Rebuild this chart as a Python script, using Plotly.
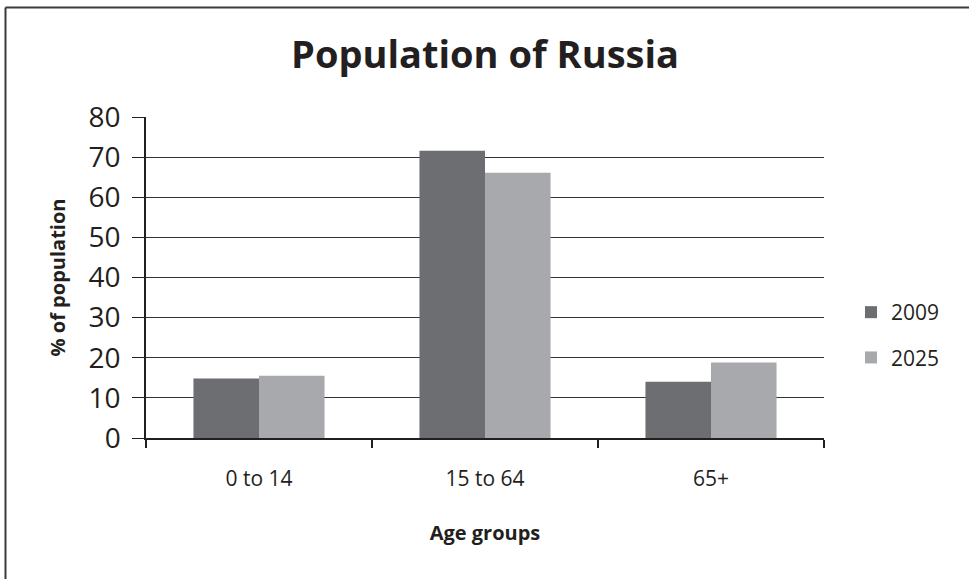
import plotly.graph_objects as go

categories = ["0 to 14", "15 to 64", "65+"]
series_names = ["2009", "2025"]
values_2009 = [14.8, 71.6, 14.0]
values_2025 = [15.5, 66.1, 18.8]
colors = ["#6d6e71", "#a7a9ac"]
y_ticks = [0, 10, 20, 30, 40, 50, 60, 70, 80]

W, H = 969, 579
ML, MR, MT, MB = 146, 145, 117, 141
PW, PH = W - ML - MR, H - MT - MB
TXT = "#231f20"
FONT = "Open Sans"

fig = go.Figure()
for name, vals, col in zip(series_names, [values_2009, values_2025], colors):
    fig.add_trace(go.Bar(x=categories, y=vals, name=name, marker=dict(color=col, line=dict(width=0)),
                         legendgroup=name))

def px_x(px):
    return (px - ML) / PW

def px_y(py):
    return (H - MB - py) / PH

fig.update_layout(
    width=W, height=H,
    margin=dict(l=ML, r=MR, t=MT, b=MB),
    paper_bgcolor="white", plot_bgcolor="white",
    font=dict(family=FONT, color=TXT),
    bargap=0.42, bargroupgap=0,
    title=dict(text="<b>Population of Russia</b>", font=dict(size=38, family=FONT, color=TXT),
               x=0.5, xref="paper", xanchor="center", y=1 - 55 / H, yref="container", yanchor="middle"),
    legend=dict(x=px_x(851), y=px_y(292), xanchor="left", yanchor="top", xref="paper", yref="paper",
                font=dict(size=21, family=FONT, color=TXT), tracegroupgap=15,
                traceorder="grouped", bgcolor="rgba(0,0,0,0)", borderwidth=0),
    showlegend=True,
    xaxis=dict(showline=True, linecolor="#231f20", linewidth=1.5, ticks="outside", tickson="boundaries",
               ticklen=8, tickcolor="#231f20", tickwidth=1.5, tickfont=dict(size=21, color=TXT),
               ticklabelstandoff=21,
               title=dict(text="<b>Age groups</b>", font=dict(size=20, color=TXT), standoff=35),
               showgrid=False),
    yaxis=dict(range=[0, 80], tickvals=y_ticks, showline=True, linecolor="#231f20", linewidth=1.5,
               ticks="outside", ticklen=12, tickcolor="#231f20", tickwidth=1.2,
               tickfont=dict(size=28, color=TXT), ticklabelstandoff=6,
               showgrid=True, gridcolor="#333333", gridwidth=1.3, zeroline=False,
               title=dict(text="<b>% of population</b>", font=dict(size=20, color=TXT), standoff=18)),
    shapes=[
        dict(type="line", xref="paper", yref="paper", x0=px_x(5.5), x1=px_x(W + 5), y0=px_y(7.5), y1=px_y(7.5),
             line=dict(color="#3a3a3a", width=2)),
        dict(type="line", xref="paper", yref="paper", x0=px_x(5.5), x1=px_x(5.5), y0=px_y(7.5), y1=px_y(H + 5),
             line=dict(color="#3a3a3a", width=2)),
    ],
)

fig.write_html("out.html", config={"displayModeBar": False},
               post_script="document.body.style.margin='0';")
